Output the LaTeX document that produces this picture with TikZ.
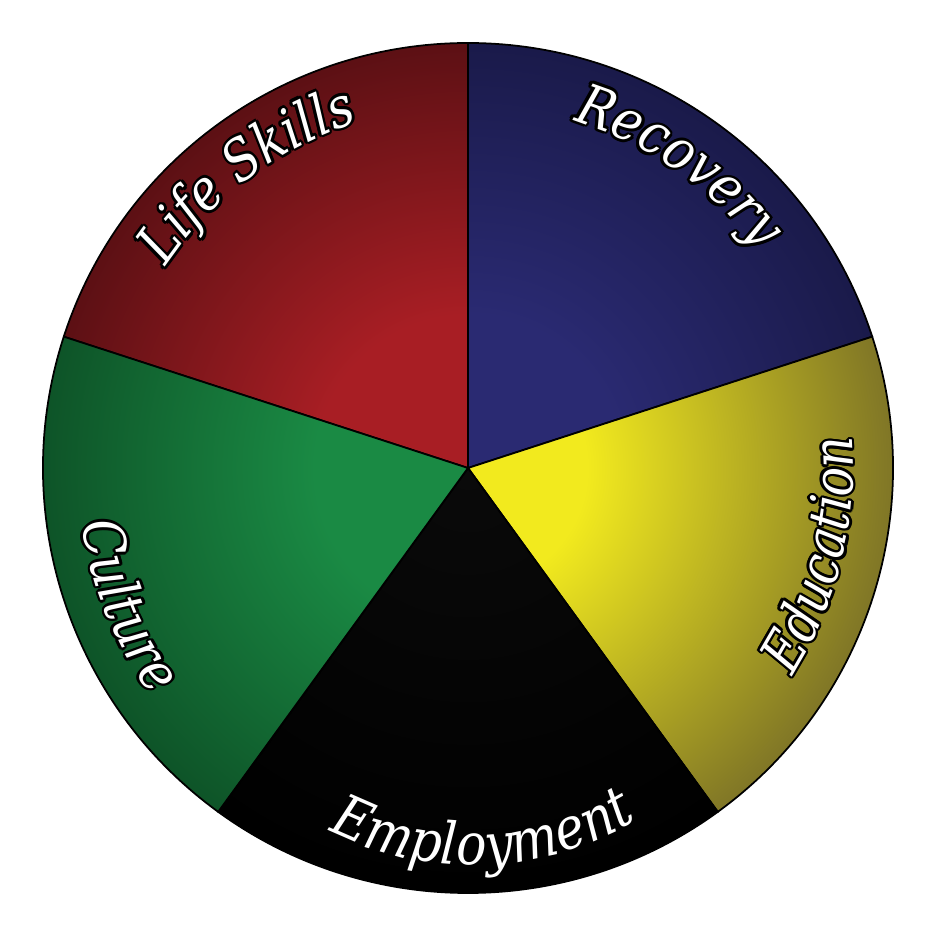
\documentclass[tikz,border=0pt]{standalone}
\usepackage{fontspec}
\setmainfont{DejaVu Serif}
\newfontfamily\rimfont[FakeStretch=0.87]{DejaVu Serif}
\usetikzlibrary{decorations.text}

\definecolor{skillred}{RGB}{168,30,36}
\definecolor{skillreddark}{RGB}{92,16,20}
\definecolor{recblue}{RGB}{42,42,114}
\definecolor{recbluedark}{RGB}{26,26,74}
\definecolor{eduyellow}{RGB}{242,234,30}
\definecolor{eduyellowdark}{RGB}{128,118,38}
\definecolor{jobblack}{RGB}{10,10,10}
\definecolor{jobblackdark}{RGB}{0,0,0}
\definecolor{culgreen}{RGB}{26,138,68}
\definecolor{culgreendark}{RGB}{14,84,40}

\pgfdeclareradialshading{redshade}{\pgfpoint{0bp}{0bp}}{color(0bp)=(skillred); color(9bp)=(skillred); color(25bp)=(skillreddark); color(50bp)=(skillreddark)}
\pgfdeclareradialshading{blueshade}{\pgfpoint{0bp}{0bp}}{color(0bp)=(recblue); color(9bp)=(recblue); color(25bp)=(recbluedark); color(50bp)=(recbluedark)}
\pgfdeclareradialshading{yellowshade}{\pgfpoint{0bp}{0bp}}{color(0bp)=(eduyellow); color(7bp)=(eduyellow); color(25bp)=(eduyellowdark); color(50bp)=(eduyellowdark)}
\pgfdeclareradialshading{blackshade}{\pgfpoint{0bp}{0bp}}{color(0bp)=(jobblack); color(25bp)=(jobblackdark); color(50bp)=(jobblackdark)}
\pgfdeclareradialshading{greenshade}{\pgfpoint{0bp}{0bp}}{color(0bp)=(culgreen); color(9bp)=(culgreen); color(25bp)=(culgreendark); color(50bp)=(culgreendark)}

\newcommand{\lblfont}{\rimfont\fontsize{16pt}{18pt}\selectfont\itshape}
\newcommand{\jobfont}{\rimfont\fontsize{16.5pt}{18pt}\selectfont\itshape}

\tikzset{
  sector line/.style={draw=black, line width=0.5pt},
}

\begin{document}
\begin{tikzpicture}

    \path[fill=white] (-4.68,-4.68) rectangle (4.68,4.68);

    % the five slices
    \foreach \from/\sh in {90/redshade, 18/blueshade, -54/yellowshade, -126/blackshade, 162/greenshade} {
      \begin{scope}
        \clip (0,0) -- (\from:4.25) arc[start angle=\from, delta angle=72, radius=4.25] -- cycle;
        \shade[shading=\sh] (0,0) circle (4.25);
      \end{scope}
      \draw[sector line] (0,0) -- (\from:4.25) arc[start angle=\from, delta angle=72, radius=4.25] -- cycle;
    }

    % outlined labels along the rim
    \foreach \txt/\sa/\ea/\rad in {Life Skills/162/92/3.63, Recovery/90/20/3.63, Education/-49/21/3.85, Culture/167/237/3.9} {
      \foreach \a in {0,30,...,330}
        \path[shift={(\a:0.75pt)}, decorate, decoration={text along path, text align=center, text color=black, text/.expanded={|\noexpand\lblfont|\txt}}]
          (\sa:\rad) arc[start angle=\sa, end angle=\ea, radius=\rad];
      \path[decorate, decoration={text along path, text align=center, text color=white, text/.expanded={|\noexpand\lblfont|\txt}}]
        (\sa:\rad) arc[start angle=\sa, end angle=\ea, radius=\rad];
    }

    \path[decorate, decoration={text along path, text align=center, text color=white, text={|\jobfont|Employment}}]
      ([shift={(232:3.2)}]0.05,-0.77) arc[start angle=232, end angle=312, radius=3.2];

\end{tikzpicture}
\end{document}
